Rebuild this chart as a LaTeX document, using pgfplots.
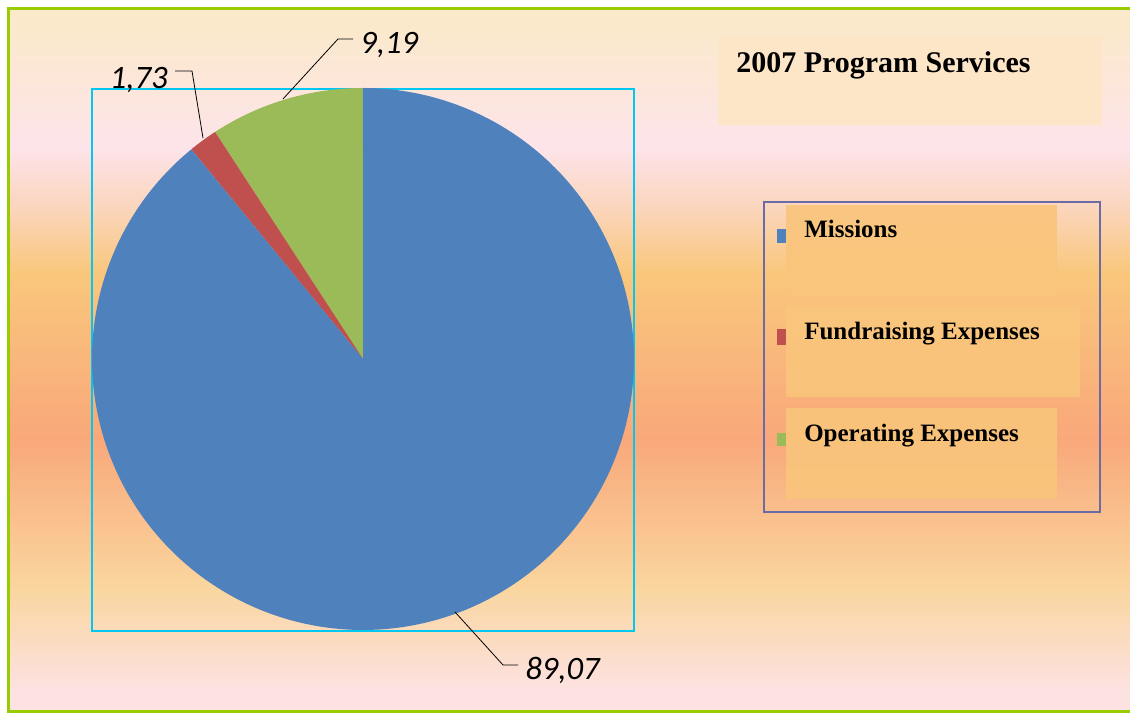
\documentclass[border=0pt]{standalone}
\usepackage{pgfplots}
\pgfplotsset{compat=1.18}
\usepackage{fontspec}
\setmainfont{Liberation Serif}
\newfontfamily\labfont{Carlito}
\definecolor{pieblue}{HTML}{4F81BD}
\definecolor{piered}{HTML}{C0504D}
\definecolor{piegreen}{HTML}{9BBB59}
\definecolor{framegreen}{HTML}{99CC00}
\definecolor{boxcyan}{HTML}{00C8F0}
\definecolor{legborder}{HTML}{6B6BA8}
\definecolor{legfill}{HTML}{F9C57C}
\definecolor{titlefill}{HTML}{FDE5C7}
\definecolor{bgA}{HTML}{FCE2E0}
\definecolor{bgB}{HTML}{FAD59E}
\definecolor{bgC}{HTML}{F9A87A}
\definecolor{bgD}{HTML}{F9C77C}
\definecolor{bgE}{HTML}{FBD6BF}
\definecolor{bgF}{HTML}{FDE4EA}
\definecolor{bgG}{HTML}{FBE9CB}
\pgfdeclareverticalshading{bgshade}{100bp}{color(0bp)=(bgA); color(26.6bp)=(bgA); color(33.9bp)=(bgB); color(44.4bp)=(bgC); color(56.2bp)=(bgD); color(61.0bp)=(bgE); color(65.1bp)=(bgF); color(73.9bp)=(bgG); color(100bp)=(bgG)}
% data: percentage shares
\def\vMissions{89.07}
\def\vFund{1.73}
\def\vOper{9.19}
\begin{document}
\begin{tikzpicture}
\path[use as bounding box] (0,0) rectangle (847.5pt,534.75pt);
\pgfmathsetmacro\tot{\vMissions+\vFund+\vOper}
\pgfmathsetmacro\aG{90+360*\vOper/\tot}
\pgfmathsetmacro\aR{\aG+360*\vFund/\tot}
\begin{axis}[at={(0,0)}, anchor=south west, x=0.75pt, y=0.75pt,
  xmin=0, xmax=1130, ymin=0, ymax=713, hide axis, clip=false, scale only axis]
% background
\fill[white] (0,0) rectangle (1130,713);
\shade[shading=bgshade] (8,2) rectangle (1130,705);
\fill[framegreen] (7,703) rectangle (1130,706);
\fill[framegreen] (7,0.5) rectangle (1130,3);
\fill[framegreen] (7,0.5) rectangle (10,706);
% pie frame
\draw[boxcyan, line width=2pt] (92,82) rectangle (634,624);
% pie slices
\addplot[fill=piegreen, draw=none, domain=90:\aG, samples=40] ({363+271*cos(x)},{354+271*sin(x)}) -- (363,354) -- cycle;
\addplot[fill=piered, draw=none, domain=\aG:\aR, samples=10] ({363+271*cos(x)},{354+271*sin(x)}) -- (363,354) -- cycle;
\addplot[fill=pieblue, draw=none, domain=\aR:450, samples=300] ({363+271*cos(x)},{354+271*sin(x)}) -- (363,354) -- cycle;
% leader lines and labels
\draw[black, line width=0.6pt] (283,614) -- (338,674) -- (353,674);
\node[anchor=west, inner sep=0pt, font=\labfont\itshape\fontsize{24.5}{28}\selectfont] at (360,668) {9,19};
\draw[black, line width=0.6pt] (203,575) -- (192,642) -- (175,642);
\node[anchor=east, inner sep=0pt, font=\labfont\itshape\fontsize{24.5}{28}\selectfont] at (168,633) {1,73};
\draw[black, line width=0.6pt] (455,101) -- (503,48) -- (518,48);
\node[anchor=west, inner sep=0pt, font=\labfont\itshape\fontsize{24.5}{28}\selectfont] at (525,42.5) {89,07};
% title
\fill[titlefill] (718,588) rectangle (1102,677);
\node[anchor=base west, inner sep=0pt, font=\bfseries\fontsize{22.5}{26}\selectfont] at (736,640) {2007 Program Services};
% legend
\draw[legborder, line width=1.6pt] (764,201) rectangle (1100,511);
\fill[pieblue] (777,470) rectangle (786,484);
\fill[piered] (777,368) rectangle (786,384);
\fill[piegreen] (777,267) rectangle (786,280);
\fill[legfill, opacity=0.9] (786,417) rectangle (1057,508);
\fill[legfill, opacity=0.9] (786,316) rectangle (1080,407);
\fill[legfill, opacity=0.9] (786,214) rectangle (1057,305);
\node[anchor=base west, inner sep=0pt, font=\bfseries\fontsize{18.75}{22}\selectfont] at (804,475) {Missions};
\node[anchor=base west, inner sep=0pt, font=\bfseries\fontsize{18.75}{22}\selectfont] at (804,373) {Fundraising Expenses};
\node[anchor=base west, inner sep=0pt, font=\bfseries\fontsize{18.75}{22}\selectfont] at (804,271) {Operating Expenses};
\end{axis}
\end{tikzpicture}
\end{document}
